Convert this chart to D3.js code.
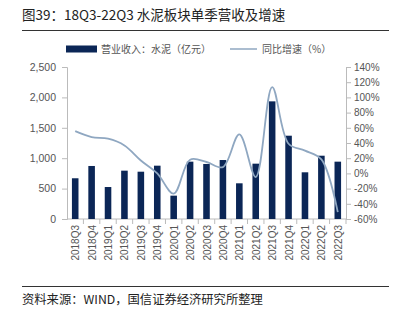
<!DOCTYPE html>
<html>
<head>
<meta charset="utf-8">
<script src="https://cdn.jsdelivr.net/npm/d3@7"></script>
<style>
  body { margin: 0; background: #fff; }
  svg { font-family: "Noto Sans CJK SC", "Liberation Sans", sans-serif; }
</style>
</head>
<body>
<div id="chart"></div>
<script>
  // data
  var quarters = ["2018Q3", "2018Q4", "2019Q1", "2019Q2", "2019Q3", "2019Q4", "2020Q1", "2020Q2", "2020Q3",
    "2020Q4", "2021Q1", "2021Q2", "2021Q3", "2021Q4", "2022Q1", "2022Q2", "2022Q3"];
  var revenue = [670, 872, 526, 795, 778, 877, 384, 943, 905, 970, 587, 910, 1935, 1370, 768, 1041, 943];
  var growth = [55.6, 47.8, 45.6, 36.8, 17, 0, -26.7, 18, 15, 8.3, 51.3, -4.8, 113.6, 39, 30, 18.4, -51];
  var leftTicks = [0, 500, 1000, 1500, 2000, 2500];
  var rightTicks = [-60, -40, -20, 0, 20, 40, 60, 80, 100, 120, 140];

  var W = 398, H = 321;
  var margin = { top: 67, right: 52, bottom: 102, left: 67 };
  var width = W - margin.left - margin.right;
  var height = H - margin.top - margin.bottom;

  var svg = d3.select("#chart").append("svg")
    .attr("width", W)
    .attr("height", H);

  // title + rules
  svg.append("text").attr("x", 22).attr("y", 20)
    .attr("font-size", 13.5).attr("fill", "#222")
    .text("图39：18Q3-22Q3 水泥板块单季营收及增速");
  svg.append("line").attr("x1", 22).attr("x2", 389).attr("y1", 30.5).attr("y2", 30.5)
    .attr("stroke", "#333").attr("stroke-width", 1);
  svg.append("line").attr("x1", 22).attr("x2", 389).attr("y1", 286.5).attr("y2", 286.5)
    .attr("stroke", "#333").attr("stroke-width", 1);
  svg.append("text").attr("x", 22).attr("y", 304)
    .attr("font-size", 12.3).attr("fill", "#222")
    .text("资料来源：WIND，国信证券经济研究所整理");

  // legend
  var lg = svg.append("g").attr("font-size", 10).attr("fill", "#555");
  lg.append("rect").attr("x", 66).attr("y", 45.5).attr("width", 31).attr("height", 7).attr("fill", "#0b2656");
  lg.append("text").attr("x", 101).attr("y", 53).text("营业收入：水泥（亿元）");
  lg.append("line").attr("x1", 230).attr("x2", 257).attr("y1", 49).attr("y2", 49)
    .attr("stroke", "#8fa7c1").attr("stroke-width", 1.5);
  lg.append("text").attr("x", 262).attr("y", 53).text("同比增速（%）");

  var g = svg.append("g").attr("transform", "translate(" + margin.left + "," + margin.top + ")");

  var x = d3.scaleBand().domain(quarters).range([0, width]).paddingInner(0.6).paddingOuter(0.3);
  var xDiv = d3.scaleBand().domain(quarters).range([0, width]);
  var y = d3.scaleLinear().domain([0, 2500]).range([height, 0]);
  var y2 = d3.scaleLinear().domain([-60, 140]).range([height, 0]);

  // left axis
  var yAxis = g.append("g")
    .call(d3.axisLeft(y).tickValues(leftTicks).tickSize(5).tickPadding(6).tickFormat(d3.format(",")));
  yAxis.select(".domain").attr("stroke", "#bbb");
  yAxis.selectAll(".tick line").attr("stroke", "#bbb");
  yAxis.selectAll("text").attr("fill", "#555").attr("font-size", 10.5)
    .attr("font-family", "Liberation Sans, sans-serif");

  // right axis
  var y2Axis = g.append("g").attr("transform", "translate(" + width + ",0)")
    .call(d3.axisRight(y2).tickValues(rightTicks).tickSize(5).tickPadding(3).tickFormat(function (d) { return d + "%"; }));
  y2Axis.select(".domain").attr("stroke", "#bbb");
  y2Axis.selectAll(".tick line").attr("stroke", "#bbb");
  y2Axis.selectAll("text").attr("fill", "#555").attr("font-size", 10)
    .attr("font-family", "Liberation Sans, sans-serif");

  // bottom axis with divider ticks
  var xAxis = g.append("g").attr("transform", "translate(0," + height + ")");
  xAxis.append("line").attr("x1", 0).attr("x2", width).attr("stroke", "#bbb");
  xAxis.selectAll(".div").data(quarters).enter().append("line")
    .attr("x1", function (d) { return xDiv(d) + xDiv.bandwidth(); })
    .attr("x2", function (d) { return xDiv(d) + xDiv.bandwidth(); })
    .attr("y1", 0).attr("y2", 5).attr("stroke", "#bbb");
  xAxis.selectAll(".lbl").data(quarters).enter().append("text")
    .attr("transform", function (d) {
      return "translate(" + (xDiv(d) + xDiv.bandwidth() / 2 + 4) + ",6) rotate(-90)";
    })
    .attr("text-anchor", "end")
    .attr("font-size", 10).attr("fill", "#555")
    .attr("font-family", "Liberation Sans, sans-serif")
    .text(function (d) { return d; });

  // bars
  g.selectAll(".bar").data(revenue).enter().append("rect")
    .attr("x", function (d, i) { return x(quarters[i]); })
    .attr("width", x.bandwidth())
    .attr("y", function (d) { return y(d); })
    .attr("height", function (d) { return height - y(d); })
    .attr("fill", "#0b2656");

  // growth line
  var line = d3.line()
    .x(function (d, i) { return xDiv(quarters[i]) + xDiv.bandwidth() / 2; })
    .y(function (d) { return y2(d); })
    .curve(d3.curveCatmullRom.alpha(0.5));
  g.append("path").datum(growth)
    .attr("d", line)
    .attr("fill", "none")
    .attr("stroke", "#8fa7c1")
    .attr("stroke-width", 1.8);
</script>
</body>
</html>
